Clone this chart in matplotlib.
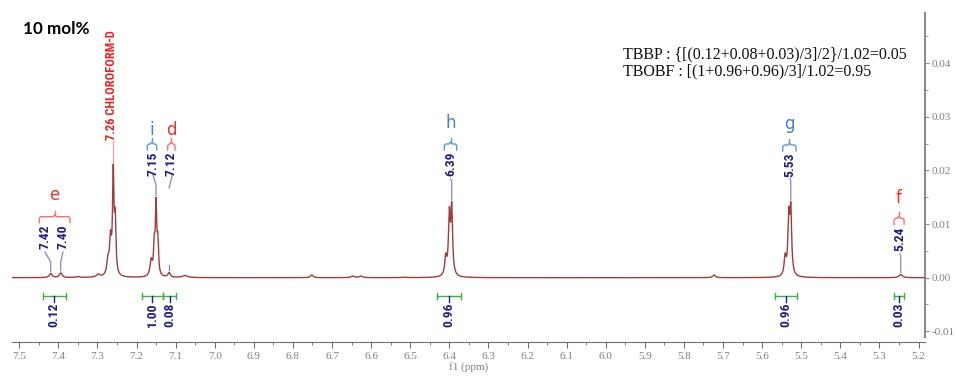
import os
import numpy as np
import matplotlib
matplotlib.use('Agg')
import matplotlib.pyplot as plt
from matplotlib import font_manager
from matplotlib.font_manager import FontProperties
from matplotlib.textpath import TextPath
from matplotlib.ticker import MultipleLocator, FormatStrFormatter

# ---- spectrum: peak positions (ppm), apex heights, half widths ----
peak_ppm = [7.4194, 7.3939, 7.350, 7.298, 7.2730, 7.2665, 7.2595, 7.2545,
            7.225, 7.1625, 7.1545, 7.1500, 7.1455, 7.1165, 7.076, 6.752,
            6.647, 6.626, 6.516, 6.4092, 6.4000, 6.3939, 5.7230, 5.5412,
            5.5319, 5.5268, 5.496, 5.2455]
peak_height = [0.0008, 0.0009, 0.0002, 0.0007, 0.0044, 0.0089, 0.0212, 0.0130,
               0.0002, 0.0037, 0.0082, 0.0150, 0.0085, 0.0010, 0.0004, 0.0005,
               0.0003, 0.0003, 0.0001, 0.0046, 0.0132, 0.0142, 0.0005, 0.0046,
               0.0132, 0.0141, 0.0002, 0.0006]
peak_hwhm = [0.004, 0.004, 0.006, 0.005, 0.0035, 0.0028, 0.0022, 0.0022,
             0.006, 0.0035, 0.0022, 0.0021, 0.0021, 0.0035, 0.008, 0.004,
             0.005, 0.005, 0.004, 0.003, 0.0027, 0.0027, 0.004, 0.003,
             0.0027, 0.0027, 0.004, 0.005]

# peak picking labels
label_text = ['7.42', '7.40', '7.26 CHLOROFORM-D', '7.15', '7.12', '6.39', '5.53', '5.24']
label_peak = [7.4194, 7.3939, 7.2595, 7.1500, 7.1165, 6.3939, 5.5268, 5.2455]

# multiplet letters
mult_letter = ['e', 'i', 'd', 'h', 'g', 'f']
mult_kind = ['red', 'blue', 'red', 'blue', 'blue', 'red']

# integrals
int_from = [7.4399, 7.1867, 7.1315, 6.4322, 5.5662, 5.2619]
int_to = [7.3811, 7.1315, 7.0990, 6.3701, 5.5100, 5.2371]
int_value = [0.12, 1.00, 0.08, 0.96, 0.96, 0.03]

note_lines = ['TBBP : {[(0.12+0.08+0.03)/3]/2}/1.02=0.05',
              'TBOBF : [(1+0.96+0.96)/3]/1.02=0.95']

# ---- build spectrum from the peak list ----
P = np.array(peak_ppm)
H = np.array(peak_height)
W = np.array(peak_hwhm)
M = 1.0 / (1.0 + ((P[:, None] - P[None, :]) / W[None, :]) ** 2)
amp = np.clip(np.linalg.solve(M, H), 0, None)
xs = np.linspace(7.53, 5.17, 24000)
ys = (amp[None, :] / (1.0 + ((xs[:, None] - P[None, :]) / W[None, :]) ** 2)).sum(1)


def spec_at(v):
    return np.interp(v, xs[::-1], ys[::-1])


# ---- condensed bold font for the peak / integral labels ----
def find_condensed():
    prefs = ['roboto condensed', 'liberation sans narrow', 'dejavu sans condensed',
             'open sans condensed', 'noto sans condensed']
    found = {}
    for f in font_manager.fontManager.ttflist:
        base = os.path.basename(f.fname).lower()
        if 'italic' in base or 'oblique' in base:
            continue
        if 'bold' not in base:
            continue
        if 'extrabold' in base or 'semibold' in base or 'black' in base:
            continue
        n = f.name.lower()
        key = None
        if 'condensed' in base or 'narrow' in base or 'condensed' in n or 'narrow' in n:
            key = n if ('condensed' in n or 'narrow' in n) else n + ' condensed'
        if key:
            found.setdefault(key, f.fname)
    for p in prefs:
        if p in found:
            return found[p]
    if found:
        return list(found.values())[0]
    return None


cpath = find_condensed()
if cpath:
    lab_fp = FontProperties(fname=cpath)
else:
    lab_fp = FontProperties(family='DejaVu Sans', weight='bold')
w10 = TextPath((0, 0), '6.39', size=10, prop=lab_fp).get_extents().width
lab_size = 10 * (23 * 0.72) / w10
lab_fp.set_size(lab_size)
big_fp = lab_fp.copy()
big_fp.set_size(lab_size * 0.93)

plt.rcParams['font.family'] = 'Liberation Serif'

fig = plt.figure(figsize=(9.59, 3.77), dpi=100)
ax = fig.add_axes([12 / 959, 1 - 342 / 377, 913 / 959, 330 / 377])
ax.set_xlim(7.5184, 5.1835)
ax.set_ylim(-0.0120, 0.04957)


# reference pixel -> data helpers for annotation layout
def vx(px):
    return 7.5 - (px - 19.2) / 391.0


def vy(py):
    return (277.7 - py) / 5360.0


PXY = 1 / 5360.0

ax.plot(xs, ys, color='#a03c3c', lw=1.0, zorder=3)

# spines and ticks
gray = '#808080'
for s in ['left', 'top']:
    ax.spines[s].set_visible(False)
ax.spines['bottom'].set_color('#6f6f6f')
ax.spines['right'].set_color('#8c8c8c')
ax.spines['right'].set_linewidth(1.5)
ax.spines['right'].set_bounds(-0.0110, 0.0494)
ax.yaxis.tick_right()
ax.xaxis.set_major_locator(MultipleLocator(0.1))
ax.xaxis.set_minor_locator(MultipleLocator(0.05))
ax.xaxis.set_major_formatter(FormatStrFormatter('%.1f'))
ax.yaxis.set_major_locator(MultipleLocator(0.01))
ax.yaxis.set_minor_locator(MultipleLocator(0.005))
ax.yaxis.set_major_formatter(FormatStrFormatter('%.2f'))
ax.tick_params(axis='x', which='major', length=4, color='#6f6f6f', labelcolor=gray,
               labelsize=8, pad=3)
ax.tick_params(axis='x', which='minor', length=2.5, color='#6f6f6f')
ax.tick_params(axis='y', which='major', length=3, color='#8c8c8c', labelcolor=gray,
               labelsize=8, pad=2)
ax.tick_params(axis='y', which='minor', length=2.5, color='#8c8c8c')
ax.set_xlabel('f1 (ppm)', fontsize=8, color=gray, labelpad=1)

navy = '#1f1f85'
lead = '#8585c5'

# peak labels and leader lines
lab_layout = [  # text x px, text top px, line start px, bend px
    (45.0, 225, 252, 262),
    (63.0, 225, 252, 262),
    (111.7, 30, 141, 143),
    (152.7, 152, 174, 185),
    (170.5, 152, 176, 188),
    (450.5, 152, 179, 181),
    (790.0, 153, 179, 181),
    (900.0, 227, 254, 256),
]
for txt, pk, (tx, tt, ls, bd) in zip(label_text, label_peak, lab_layout):
    chl = 'CHLORO' in txt
    col = '#ee2222' if chl else navy
    lcol = '#ff9a9a' if chl else lead
    ax.text(vx(tx), vy(tt), txt, rotation=90, ha='center', va='top',
            color=col, fontproperties=big_fp if chl else lab_fp, zorder=4)
    top = spec_at(pk) + 2 * PXY
    if txt == '7.12':
        ax.plot([vx(tx) - 0.004, pk], [vy(ls), vy(bd)], color=lcol, lw=0.9)
        ax.plot([pk, pk], [vy(265), top], color=lcol, lw=0.9)
    else:
        ax.plot([pk if chl else vx(tx), pk, pk],
                [vy(ls), vy(bd), top], color=lcol, lw=0.9)

# multiplet brackets and letters
mult_layout = [  # bracket left px, right px, bracket y px, letter y px
    (39.3, 70.0, 216.7, 195),
    (147.3, 156.7, 144, 130),
    (167.7, 175.0, 144, 130),
    (444.3, 456.7, 144, 123.3),
    (782.7, 796.0, 145, 124),
    (894.0, 904.0, 218.3, 198.3),
]
for let, kind, (xl, xr, yb, yl) in zip(mult_letter, mult_kind, mult_layout):
    tcol = '#ff2b2b' if kind == 'red' else '#4a7fc6'
    bcol = '#ff6f6f' if kind == 'red' else '#5b9bd5'
    xm = (xl + xr) / 2
    bx = [xl, xl, xl + 1.5, xm - 1.5, xm, xm + 1.5, xr - 1.5, xr, xr]
    by = [yb + 6, yb + 1.5, yb, yb, yb - 2, yb, yb, yb + 1.5, yb + 6]
    ax.plot([vx(v) for v in bx], [vy(v) for v in by], color=bcol, lw=1.0)
    ax.plot([vx(xm), vx(xm)], [vy(yb - 2), vy(yb - 6)], color=bcol, lw=1.0)
    ax.text(vx(xm), vy(yl), let, ha='center', va='center', color=tcol,
            fontsize=12, family='DejaVu Sans')

# integrals
green = '#3cb43c'
bar_y = vy(296)
for a, b, val in zip(int_from, int_to, int_value):
    ax.plot([a, b], [bar_y, bar_y], color=green, lw=1.0)
    for e in (a, b):
        ax.plot([e, e], [bar_y - 3 * PXY, bar_y + 3 * PXY], color=green, lw=1.0)
    m = (a + b) / 2
    ax.plot([m, m], [bar_y, vy(302)], color=navy, lw=1.0)
    ax.text(m, vy(303), '%.2f' % val, rotation=90, ha='center', va='top',
            color=navy, fontproperties=lab_fp)

# text annotations
fig.text(22.7 / 959, 1 - 29.3 / 377, '10 mol%', ha='left', va='center',
         fontsize=12.3, fontweight='bold', family='Lato', color='black')
for i, line in enumerate(note_lines):
    fig.text(623.3 / 959, 1 - (54 + 17.5 * i) / 377, line, ha='left', va='center',
             fontsize=11.5, family='Liberation Serif', color='#111111')

fig.savefig('out.png', dpi=100)
